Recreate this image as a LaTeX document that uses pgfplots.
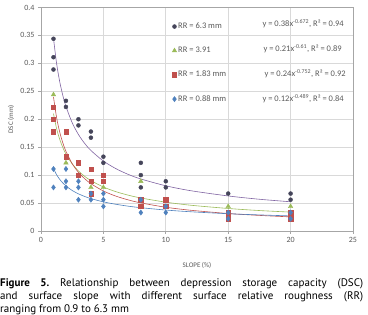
\documentclass[border=0pt]{standalone}
\usepackage{fontspec}
\setmainfont{Carlito}
\newfontfamily\capfont{PT Sans}
\usepackage{pgfplots}
\pgfplotsset{compat=1.18}
\definecolor{darkc}{HTML}{45455A}
\definecolor{greenc}{HTML}{9BBB59}
\definecolor{redc}{HTML}{C0504D}
\definecolor{bluec}{HTML}{4F81BD}
\definecolor{purplec}{HTML}{8064A2}
\definecolor{gridc}{HTML}{D9D9D9}
\definecolor{axc}{HTML}{A6A6A6}
\definecolor{txtc}{HTML}{595959}
\begin{document}
\begin{tikzpicture}[x=1pt,y=1pt]
\useasboundingbox (0,0) rectangle (368,315);
\begin{axis}[
  at={(41pt,84pt)}, anchor=south west,
  scale only axis, width=312pt, height=223.5pt,
  xmin=0, xmax=25, ymin=0, ymax=0.4,
  xtick={0,5,10,15,20,25},
  ytick={0,0.05,0.1,0.15,0.2,0.25,0.3,0.35,0.4},
  grid=major, major grid style={draw=gridc, line width=0.6pt},
  axis line style={draw=axc, line width=0.6pt},
  tick style={draw=axc, line width=0.6pt},
  tick align=outside, tick pos=left, major tick length=3pt,
  ticklabel style={font=\fontsize{8}{9}\selectfont, text=txtc},
  /pgf/number format/assume math mode=true,
  yticklabel style={/pgf/number format/fixed, /pgf/number format/precision=2},
  xlabel={SLOPE (\%)}, ylabel={DSC (mm)},
  xlabel style={at={(axis description cs:0.5,-0.152)}, anchor=center, font=\fontsize{7}{8}\selectfont, text=txtc},
  ylabel style={at={(axis description cs:-0.096,0.5)}, anchor=center, font=\fontsize{7}{8}\selectfont, text=txtc},
  legend style={at={(axis cs:10.26,0.379)}, anchor=north west, draw=none, fill=none,
    font=\fontsize{8.5}{10}\selectfont, text=txtc, row sep=14pt,
    nodes={inner sep=1.5pt}},
  legend cell align=left,
  legend image code/.code={\draw[mark repeat=2,mark phase=2,#1] plot coordinates {(0pt,0pt)(3pt,0pt)(6pt,0pt)};},
]
% trend lines
\addplot[purplec, line width=0.6pt, smooth, forget plot] coordinates {
 (1,0.345)(1.25,0.2998)(1.5,0.2672)(1.75,0.2425)(2,0.2229)(2.5,0.1937)(3,0.1727)(3.5,0.1567)(4,0.1441)(5,0.1252)(6,0.1116)(7,0.1012)(8,0.0931)(10,0.0809)(12,0.0721)(15,0.0627)(17.5,0.0568)(20,0.0523)};
\addplot[greenc, line width=0.6pt, smooth, forget plot] coordinates {
 (1,0.21)(1.25,0.1833)(1.5,0.164)(1.75,0.1493)(2,0.1376)(2.5,0.1201)(3,0.1075)(3.5,0.0978)(4,0.0902)(5,0.0787)(6,0.0704)(7,0.0641)(8,0.0591)(10,0.0516)(12,0.0461)(15,0.0403)(17.5,0.0366)(20,0.0338)};
\addplot[redc, line width=0.6pt, smooth, forget plot] coordinates {
 (1,0.24)(1.25,0.2029)(1.5,0.1769)(1.75,0.1576)(2,0.1425)(2.5,0.1205)(3,0.105)(3.5,0.0936)(4,0.0846)(5,0.0716)(6,0.0624)(7,0.0556)(8,0.0503)(10,0.0425)(12,0.0371)(15,0.0313)(17.5,0.0279)(20,0.0252)};
\addplot[bluec, line width=0.6pt, smooth, forget plot] coordinates {
 (1,0.112)(1.25,0.1007)(1.5,0.0924)(1.75,0.0859)(2,0.0806)(2.5,0.0725)(3,0.0665)(3.5,0.0618)(4,0.058)(5,0.0521)(6,0.0478)(7,0.0444)(8,0.0417)(10,0.0375)(12,0.0344)(15,0.0309)(17.5,0.0288)(20,0.027)};
% data
\addplot[only marks, mark=*, mark size=2pt, mark options={draw=darkc, fill=darkc}] coordinates {
 (1,0.344)(1,0.311)(1,0.289)(2,0.233)(2,0.222)(3,0.2)(3,0.189)(4,0.178)(4,0.167)(5,0.133)(5,0.122)
 (8,0.122)(8,0.1)(8,0.078)(10,0.089)(10,0.078)(15,0.067)(20,0.067)(20,0.056)};
\addlegendentry{RR = 6.3 mm}
\addplot[only marks, mark=triangle*, mark size=2.6pt, mark options={draw=greenc, fill=greenc}] coordinates {
 (1,0.244)(2,0.122)(4,0.078)(5,0.078)(8,0.089)(15,0.044)(20,0.044)};
\addlegendentry{RR = 3.91}
\addplot[only marks, mark=square*, mark size=2.2pt, mark options={draw=redc, fill=redc}] coordinates {
 (1,0.222)(1,0.2)(1,0.178)(2,0.178)(2,0.133)(3,0.122)(3,0.1)(4,0.111)(4,0.089)(4,0.067)(5,0.1)(5,0.089)
 (8,0.056)(8,0.044)(10,0.056)(10,0.044)(15,0.033)(15,0.022)(20,0.033)(20,0.022)};
\addlegendentry{RR = 1.83 mm}
\addplot[only marks, mark=diamond*, mark size=2.6pt, mark options={draw=bluec, fill=bluec}] coordinates {
 (1,0.111)(1,0.078)(2,0.111)(2,0.089)(2,0.078)(3,0.089)(3,0.078)(3,0.056)(4,0.067)(4,0.056)
 (5,0.067)(5,0.056)(5,0.044)(8,0.056)(8,0.033)(10,0.044)(10,0.033)(15,0.033)(15,0.022)(20,0.033)(20,0.022)};
\addlegendentry{RR = 0.88 mm}
% equations
\node[anchor=west, font=\fontsize{8.5}{10}\selectfont, text=txtc] at (axis cs:17.47,0.3705) {y = 0.38x\textsuperscript{-0.672}, R² = 0.94};
\node[anchor=west, font=\fontsize{8.5}{10}\selectfont, text=txtc] at (axis cs:17.55,0.3262) {y = 0.21x\textsuperscript{-0.61}, R² = 0.89};
\node[anchor=west, font=\fontsize{8.5}{10}\selectfont, text=txtc] at (axis cs:17.63,0.2815) {y = 0.24x\textsuperscript{-0.752}, R² = 0.92};
\node[anchor=west, font=\fontsize{8.5}{10}\selectfont, text=txtc] at (axis cs:17.47,0.2368) {y = 0.12x\textsuperscript{-0.489}, R² = 0.84};
\end{axis}
\node[anchor=north west, inner sep=0pt, text width=363pt, align=justify,
  font=\capfont\fontsize{11}{13.2}\selectfont\frenchspacing] at (0,37)
  {\textbf{Figure 5.} Relationship between depression storage capacity (DSC)\linebreak
   and surface slope with different surface relative roughness (RR)\linebreak
   ranging from 0.9 to 6.3 mm};
\end{tikzpicture}
\end{document}
